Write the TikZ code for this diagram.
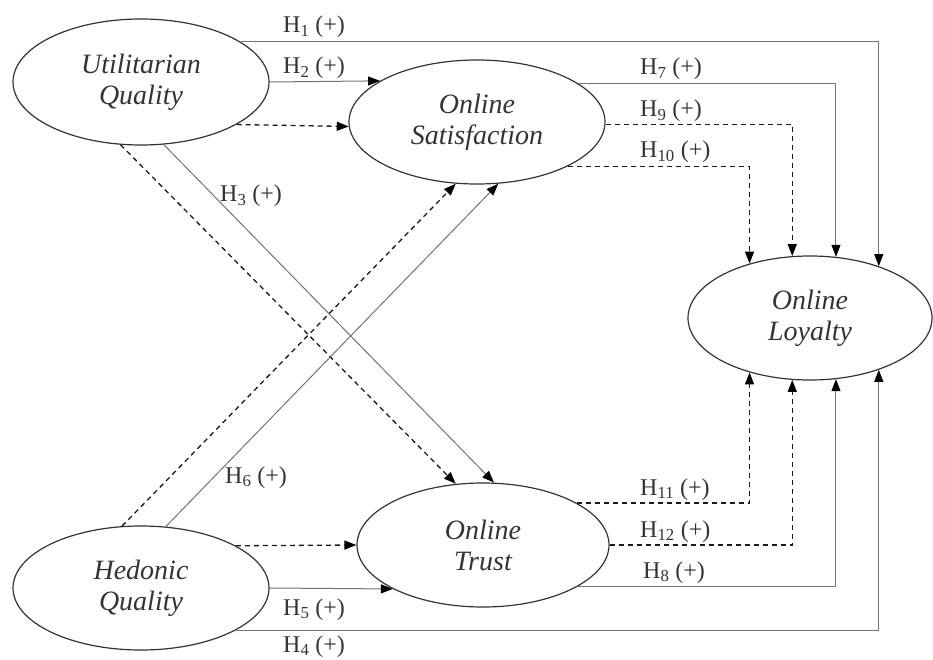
\documentclass[tikz,border=0pt]{standalone}
\usepackage{fontspec}
\setmainfont{Liberation Serif}
\usetikzlibrary{shapes.geometric,arrows.meta}

\begin{document}
\begin{tikzpicture}[x=1pt, y=-1pt,
  lat/.style={draw=black!80, line width=1.2pt, ellipse, inner sep=0pt, align=center, minimum height=124pt, font=\fontsize{28}{31}\selectfont\itshape, text=black!80},
  hyp/.style={anchor=base west, inner sep=0pt, font=\fontsize{24}{26}\selectfont, text=black!80},
  sarr/.style={draw=black!55, line width=1pt, -{Triangle[length=12pt, width=9pt, color=black]}},
  darr/.style={draw=black!90, line width=1.3pt, dash pattern=on 5pt off 4pt, -{Triangle[length=12pt, width=9pt, color=black]}}]
  \useasboundingbox (0,0) rectangle (933,660);
  \node[lat, minimum width=256pt, minimum height=126pt] (uq) at (141,82) {Utilitarian\\Quality};
  \node[lat, minimum width=256pt] (os) at (477,122) {Online\\Satisfaction};
  \node[lat, minimum width=244pt] (ol) at (810,318) {Online\\Loyalty};
  \node[lat, minimum width=252pt] (ot) at (483,545) {Online\\Trust};
  \node[lat, minimum width=256pt] (hq) at (141,588) {Hedonic\\Quality};
  \draw[sarr] (uq.22) -| (ol.37.7); \draw[sarr] (uq.east) -- (os.157.8); \draw[darr] (uq.-24.7) -- (os.-178.6);
  \draw[darr] (uq.-108.7) -- (ot.114.9); \draw[sarr] (uq.-70.5) -- (ot.80.8);
  \draw[darr] (hq.107.2) -- (os.-109.8); \draw[sarr] (hq.68.5) -- (os.-71);
  \draw[sarr] (os.21.4) -| (ol.67.6); \draw[darr] (os.-1.4) -| (ol.106.4); \draw[darr] (os.-26) -| (ol.138);
  \draw[darr] (ot.24.4) -| (ol.-138); \draw[darr] (ot.east) -| (ol.-106.4); \draw[sarr] (ot.-24.4) -| (ol.-67.6);
  \draw[sarr] (hq.-24) -| (ol.-37.7); \draw[darr] (hq.24) -- (ot.west); \draw[sarr] (hq.east) -- (ot.-154.7);
  \node[hyp] (h1) at (283,33) {H\textsubscript{1} (+)};
  \node[hyp] (h2) at (283,74) {H\textsubscript{2} (+)};
  \node[hyp] (h3) at (220,202) {H\textsubscript{3} (+)};
  \node[hyp] (h6) at (225,483) {H\textsubscript{6} (+)};
  \node[hyp] (h7) at (640,75) {H\textsubscript{7} (+)};
  \node[hyp] (h9) at (640,117) {H\textsubscript{9} (+)};
  \node[hyp] (h10) at (640,158) {H\textsubscript{10} (+)};
  \node[hyp] (h11) at (640,495) {H\textsubscript{11} (+)};
  \node[hyp] (h12) at (640,537) {H\textsubscript{12} (+)};
  \node[hyp] (h8) at (643,578) {H\textsubscript{8} (+)};
  \node[hyp] (h5) at (283,615) {H\textsubscript{5} (+)};
  \node[hyp] (h4) at (283,652) {H\textsubscript{4} (+)};
\end{tikzpicture}
\end{document}
